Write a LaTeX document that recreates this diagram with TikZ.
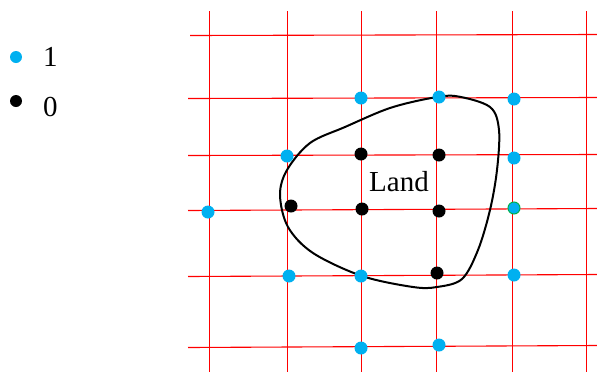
\documentclass[tikz,border=0pt]{standalone}
\usepackage{fontspec}
\setmainfont{Liberation Serif}
\begin{document}
\begin{tikzpicture}[x=1pt,y=-1pt,
  gridline/.style={draw=red, line width=1.1pt},
  one/.style={circle, fill=cyan1, inner sep=0pt, minimum size=13pt},
  zero/.style={circle, fill=black, inner sep=0pt, minimum size=13pt},
  lbl/.style={font=\fontsize{29}{30}\selectfont, inner sep=0pt}]
\definecolor{cyan1}{HTML}{00B0F0}
\definecolor{green1}{HTML}{00B050}
\useasboundingbox (0,0) rectangle (597,373);
% grid
\foreach \x in {209.5,287.5,361.5,436.5,512.5,586.5} \draw[gridline] (\x,11) -- (\x,372);
\draw[gridline] (190,35.5) -- (597,34.5);
\draw[gridline] (188,98.5) -- (597,97.5);
\draw[gridline] (188,155.5) -- (597,154.5);
\draw[gridline] (188,210.5) -- (597,208.5);
\draw[gridline] (188,276.5) -- (597,274.5);
\draw[gridline] (188,347.5) -- (597,345.5);
% land
\draw[black, line width=2pt] plot[smooth cycle, tension=0.55] coordinates {
 (433,97.7) (457,96.3) (490,107) (499,130) (497,170) (490,210) (478,250)
 (462,279) (437,287) (413,287) (362,276) (313,253) (288,227) (280,195)
 (287,170) (310,143) (345,127) (390,108)};
\node[lbl] (land) at (399,182) {Land};
% ones
\node[one] (a1) at (361,98) {};
\node[one] (a2) at (439,97) {};
\node[one] (a3) at (514,99) {};
\node[one] (a4) at (287,156) {};
\node[one] (a5) at (514,158) {};
\node[one] (a6) at (208,212) {};
\node[one, draw=green1, line width=1pt, minimum size=12pt] (a7) at (514,208) {};
\node[one] (a8) at (289,276) {};
\node[one] (a9) at (361,276) {};
\node[one] (a10) at (514,275) {};
\node[one] (a11) at (361,348) {};
\node[one] (a12) at (439,345) {};
% zeros
\node[zero] (z1) at (361,154) {};
\node[zero] (z2) at (439,155) {};
\node[zero] (z3) at (291,206) {};
\node[zero] (z4) at (362,209) {};
\node[zero] (z5) at (439,211) {};
\node[zero] (z6) at (437,273) {};
% legend
\node[one, minimum size=12pt] (l1) at (16,57) {};
\node[lbl, anchor=base west] (t1) at (43,66) {1};
\node[zero, minimum size=12pt] (l0) at (16,101) {};
\node[lbl, anchor=base west] (t0) at (43,116) {0};
\end{tikzpicture}
\end{document}
